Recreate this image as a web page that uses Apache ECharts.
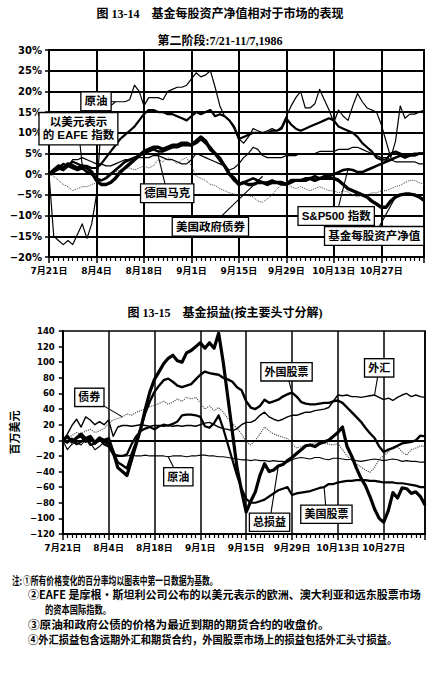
<!DOCTYPE html>
<html>
<head>
<meta charset="utf-8">
<script src="https://cdn.jsdelivr.net/npm/echarts@6/dist/echarts.min.js"></script>
<style>
  html, body { margin: 0; padding: 0; background: #fff; }
  #chart { width: 435px; height: 673px; }
</style>
</head>
<body>
<div id="chart"></div>
<script>
// ── Data: trading-day index 0 = 7/21/1986 … 79 = 11/7/1986 ──
const TICK_LABELS = ['7月21日', '8月4日', '8月18日', '9月1日', '9月15日', '9月29日', '10月13日', '10月27日'];
const LAST_DAY = 79;

// 图 13-14: % change vs first day
const NAV = [
  0, 1, 2, 1.5, 2.5, 2, 1.5, 2, 1.5, 0.5,
  -1.5, -2.5, -2.5, -2, -1, 0.5, 1.5, 2.5, 3.5, 4.5,
  5.5, 6, 6.5, 6.5, 6, 6.5, 7, 7, 7.5, 7.5,
  7, 8, 9, 8, 6, 5, 3.5, 2, 0, -1,
  -2.5, -2, -2.5, -2.5, -2, -2, -2.5, -2, -2, -2,
  -2.5, -1.5, -1.5, -1.5, -1.5, -1, -1.5, -1, -1, -1,
  -1, -1.5, -2.5, -3.5, -4, -4.5, -5, -5.5, -6.5, -7.2,
  -8, -8, -6.5, -5.5, -5, -4.8, -4.8, -5, -5.5, -6.3
];
const SP500 = [
  0, 0.5, 1.5, 1, 2, 1.5, 1, 1.5, 0.5, 0,
  -1, -1.5, -1, 0, 1, 2, 3, 3.5, 4, 4.5,
  5, 5.5, 6, 5.5, 5.5, 6, 6.5, 6.5, 7, 7,
  7, 7.5, 8.5, 7.5, 6.5, 5, 4, 2, 0, -1.5,
  -2.5, -2, -1.5, -1, -1.5, -2, -2, -1.5, -2, -2.5,
  -2.5, -2, -1.5, -1.5, -1, -1, -0.5, -1, -0.5, -0.5,
  0, 0.5, 1, 1.2, 1, 0.5, 0.5, 1, 1.5, 2,
  2.5, 3, 3.5, 4, 4.5, 4, 4.5, 4.5, 5, 5
];
const EAFE = [
  0, 1, 1.5, 2.5, 2, 3, 2.5, 2, 2, 1.5,
  1.5, 2.5, 4, 5.5, 7, 8.5, 9.5, 10.5, 11.5, 13,
  14.5, 15.5, 15.5, 15, 15, 14.5, 14.5, 14, 13.5, 13,
  14, 15, 14.5, 15, 15.5, 14, 14.5, 14, 13, 11.5,
  8.5, 9, 9.5, 10, 10, 10, 10, 10.5, 10.5, 11,
  13.5, 12, 11, 10.5, 11, 11.5, 12, 12.5, 13, 13.5,
  13, 11.5, 11, 10.5, 10, 9, 7.5, 6.5, 5.5, 4,
  3.5, 3.5, 5, 5.5, 5, 4.5, 4.5, 5, 5, 5
];
const DMARK = [
  0, 0.5, 1, 1.5, 2, 3.5, 3.5, 4, 3.5, 3,
  2.5, 2.5, 2, 2, 2.5, 3, 3.5, 3.5, 4, 4,
  4, 4, 4.5, 4.5, 4, 3.5, 3.5, 3, 2.5, 2.5,
  3.5, 5, 4.5, 4, 3.5, 3, 2.5, 2, 1, 1.5,
  2.5, 4, 5, 6.5, 6, 4.5, 4, 4, 4, 4,
  4.5, 4.5, 4.5, 5, 5, 5, 5, 5.5, 5.5, 5.5,
  5.5, 6, 6, 6, 6.5, 6.5, 6, 5.5, 5, 4.5,
  4, 4, 3.5, 3, 3, 3, 3, 3, 2.5, 2.5
];
const CRUDE_PCT = [
  0, -15, -16, -17, -16, -17, -14.5, -12, -15.5, -12,
  -5, 12, 13.5, 16.5, 17.5, 17.5, 17.5, 18, 21.5, 20,
  16.5, 18.5, 18.5, 18.5, 18, 20, 20.5, 21, 21, 21.5,
  23, 24.5, 23.5, 24, 25, 21, 16.5, 14, 13, 11,
  8.5, 7.5, 9, 11, 10.5, 10, 10.5, 11, 10.5, 11.5,
  14, 16.5, 18.5, 20, 16, 16, 17, 20.5, 18, 15.5,
  12.5, 15.5, 14, 13, 16.5, 19.5, 17.5, 16, 15.5, 15,
  12, 8, 4, 8, 16.5, 13.5, 14.5, 14.5, 15, 15.5
];
const BONDS_PCT = [
  0, -0.5, -1.5, -2.5, -3, -4, -3.5, -3, -3, -2.5,
  -2, -1.5, -0.5, 0.5, 0.5, 1, 1.5, 1.5, 1, 1.5,
  2, 1.5, 2, 3.5, 3, 4, 3.5, 2.5, 3.5, 4,
  2, -0.5, -1, -1.5, -2.5, -2.7, -3.5, -4, -4.5, -4.8,
  -5, -5, -5.2, -5.5, -6.5, -6.8, -6, -5, -3.6, -2.5,
  -2, -3, -3.5, -3, -3.5, -4, -3.5, -3, -3.5, -4,
  -4, -4.5, -4, -4.3, -5, -5.5, -5, -5, -4.5, -4.5,
  -4, -4, -3.5, -3, -2.7, -2, -1.5, -1.5, -2, -2.5
];

// 图 13-15: P&L, million USD
const TOTAL_PL = [
  0, 5, -2, 3, 8, 2, 5, -3, 3, 0,
  2, -15, -35, -40, -45, -25, -5, 15, 40, 62,
  78, 88, 98, 105, 109, 102, 100, 112, 115, 120,
  125, 118, 125, 118, 137, 100, 55, 10, -35, -65,
  -92, -78, -66, -45, -30, -40, -38, -33, -31, -26,
  -22, -17, -12, -7, -6, -8, -4, -2, 0, 5,
  10, 17, -8, -20, -35, -48, -58, -72, -88, -100,
  -105, -90, -67, -74, -61, -62, -68, -66, -72, -83
];
const FOREIGN_EQ = [
  0, 4, -2, 3, 5, -2, 2, -4, 0, -2,
  -4, -15, -28, -32, -36, -18, -2, 15, 35, 50,
  62, 70, 77, 79, 75, 70, 68, 70, 72, 78,
  84, 88, 86, 85, 84, 80, 78, 75, 68, 64,
  50, 42, 40, 44, 52, 48, 50, 52, 56, 59,
  61, 56, 49, 47, 46, 46, 47, 48, 48, 50,
  51, 48, 42, 36, 30, 24, 16, 9, 3, -8,
  -15, -12, -10, -7, -4, -3, -2, 0, 6, 5
];
const US_EQ = [
  0, -3, 2, -5, -2, 3, -6, -4, 2, -5,
  -8, -18, -20, -20, -18, -5, 5, 12, 15, 17,
  14, 18, 20, 19, 21, 24, 32, 33, 33, 32,
  30, 18, 16, 22, 32, 15, -5, -25, -45, -62,
  -75, -80, -80, -78, -76, -72, -68, -64, -62, -60,
  -70, -68, -67, -66, -65, -63, -61, -60, -56, -56,
  -54, -53, -52, -52, -51, -51, -51, -52, -52, -53,
  -54, -54, -54, -55, -55, -56, -57, -58, -60, -60
];
const FX = [
  0, 8, 19, 27, 17, 30, 26, 20, 24, 20,
  26, 5, 17, 19, 19, 18, 19, 20, 19, 18,
  19, 19, 18, 19, 18, 19, 18, 19, 19, 18,
  20, 22, 23, 20, 17, 15, 14, 12, 15, 20,
  23, 23, 26, 32, 36, 30, 27, 25, 27, 30,
  32, 32, 34, 36, 36, 38, 39, 40, 42, 50,
  58, 57, 58, 56, 56, 55, 56, 57, 58, 55,
  52, 54, 51, 55, 58, 60, 56, 58, 56, 55
];
const CRUDE_PL = [
  0, -12, -5, -3, -6, 1, -3, -12, -8, -2,
  -6, -17, -19, -20, -20, -19, -20, -20, -19, -20,
  -20, -20, -20, -21, -20, -20, -20, -21, -20, -20,
  -19, -19, -20, -20, -21, -21, -22, -23, -24, -25,
  -25, -26, -25, -26, -26, -27, -26, -27, -27, -28,
  -25, -23, -22, -23, -24, -22, -22, -24, -25, -23,
  -23, -24, -25, -24, -26, -27, -26, -25, -24, -25,
  -26, -25, -24, -25, -27, -26, -27, -27, -28, -28
];
const BONDS_PL = [
  0, 3, 6, 10, 8, 12, 14, 10, 12, 15,
  22, 26, 28, 30, 34, 32, 36, 38, 40, 43,
  45, 47, 50, 46, 49, 53, 50, 55, 53, 55,
  48, 40, 44, 38, 42, 36, 28, 22, 15, 8,
  -2, -6, 0, 8, 17, 12, 8, 6, 4, 2,
  -5, -10, -8, -6, -5, -3, -1, -3, -5, -6,
  -4, -12, -20, -26, -30, -34, -38, -41, -35, -24,
  -20, -15, -8, -8, -15, -19, -12, -10, -7, -8
];

// ── Callout boxes: [day, value] for box centre and leader target ──
const TOP_CALLOUTS = [
  { text: '原油', box: [9.9, 17.6], target: [14, 17.5] },
  { text: '以美元表示\n的 EAFE 指数', box: [6.2, 11], target: [7, 2] },
  { text: '德国马克', box: [24.9, -4.6], target: [23, 4.5] },
  { text: '美国政府债券', box: [34, -12.7], target: [45, -0.5] },
  { text: 'S&P500 指数', box: [60.5, -10.1], target: [63, 1.2] },
  { text: '基金每股资产净值', box: [68.5, -14.9], target: [73, -5.5] },
];
const BOTTOM_CALLOUTS = [
  { text: '债券', box: [5.8, 55], target: [13, 30] },
  { text: '外国股票', box: [48.8, 87.7], target: [50, 61] },
  { text: '外汇', box: [69, 92.8], target: [68, 58] },
  { text: '原油', box: [25.2, -46.7], target: [23, -21] },
  { text: '总损益', box: [45.1, -105], target: [47, -33] },
  { text: '美国股票', box: [57.5, -94.8], target: [57, -60] },
];

const NOTES = [
  { text: '注:', x: 12, y: 580, w: 10 },
  { text: '①所有价格变化的百分率均以图表中第一日数据为基数。', x: 23, y: 580, w: 195 },
  { text: '②EAFE 是摩根·斯坦利公司公布的以美元表示的欧洲、澳大利亚和远东股票市场', x: 28, y: 594, w: 393 },
  { text: '的资本国际指数。', x: 45, y: 609, w: 66 },
  { text: '③原油和政府公债的价格为最近到期的期货合约的收盘价。', x: 28, y: 624, w: 302 },
  { text: '④外汇损益包含远期外汇和期货合约，外国股票市场上的损益包括外汇头寸损益。', x: 28, y: 639, w: 370 },
];

const FONT = '"DejaVu Sans", "Noto Sans CJK SC", sans-serif';
const LABEL_FONT = '"Liberation Sans", "Noto Sans CJK SC", sans-serif';
const CJK_FONT = '"Noto Sans CJK SC", sans-serif';
const TITLE_FONT = '"Liberation Serif", "Noto Sans CJK SC", serif';

const chart = echarts.init(document.getElementById('chart'), null, { renderer: 'svg' });

const minus = v => (v < 0 ? '−' + (-v) : String(v));
const dayLabel = v => (v % 10 === 0 && TICK_LABELS[v / 10]) || '';

function xAxisFor(gridIndex, splitWidth) {
  return {
    type: 'value', gridIndex, min: 0, max: LAST_DAY, interval: 10,
    axisLine: { show: true, onZero: false, lineStyle: { color: '#000', width: 2 } },
    axisTick: { show: true, length: 6, lineStyle: { color: '#000', width: 1.5 } },
    minorTick: { show: true, splitNumber: 10, length: 4, lineStyle: { color: '#000', width: 1.2 } },
    axisLabel: { formatter: dayLabel, margin: 9, color: '#000', fontSize: 9, fontWeight: 'bold',
      fontFamily: FONT, showMaxLabel: false },
    splitLine: { show: true, lineStyle: { color: '#000', width: splitWidth } },
  };
}

function line(data, gridIndex, width, type, color) {
  return {
    type: 'line', xAxisIndex: gridIndex, yAxisIndex: gridIndex,
    data: data.map((v, i) => [i, v]),
    showSymbol: false, symbol: 'none', silent: true,
    lineStyle: { color: color || '#000', width, type: type || 'solid', join: 'round' },
  };
}

const crudePl = line(CRUDE_PL, 1, 1.1);
crudePl.markLine = {
  silent: true, symbol: ['none', 'none'], label: { show: false },
  lineStyle: { color: '#000', width: 2, type: 'solid' },
  data: [{ yAxis: 0 }],
};

chart.setOption({
  animation: false,
  backgroundColor: '#fff',
  grid: [
    { left: 49, top: 50, width: 375, height: 207, show: true, borderColor: '#000', borderWidth: 2 },
    { left: 59, top: 331, width: 366, height: 203, show: true, borderColor: '#000', borderWidth: 1.6 },
  ],
  xAxis: [xAxisFor(0, 2), xAxisFor(1, 1.5)],
  yAxis: [
    {
      type: 'value', gridIndex: 0, min: -20, max: 30, interval: 5,
      axisLine: { show: true, lineStyle: { color: '#000', width: 2 } },
      axisTick: { show: true, length: 4, lineStyle: { color: '#000', width: 1.5 } },
      axisLabel: { formatter: v => minus(v) + '%', margin: 7, color: '#000', fontSize: 10,
        fontWeight: 'bold', fontFamily: FONT },
      splitLine: { show: true, lineStyle: { color: '#000', width: 2 } },
    },
    {
      type: 'value', gridIndex: 1, min: -120, max: 140, interval: 20,
      name: '百万美元', nameLocation: 'middle', nameRotate: 90, nameGap: 43,
      nameTextStyle: { color: '#000', fontSize: 11, fontWeight: 'bold', fontFamily: CJK_FONT },
      axisLine: { show: true, lineStyle: { color: '#000', width: 2 } },
      axisTick: { show: true, length: 4, lineStyle: { color: '#000', width: 1.5 } },
      axisLabel: { formatter: minus, margin: 8, color: '#000', fontSize: 8.5,
        fontWeight: 'bold', fontFamily: FONT },
      splitLine: { show: false },
    },
  ],
  series: [
    line(BONDS_PCT, 0, 1, 'dotted', '#444'),
    line(CRUDE_PCT, 0, 1.2),
    line(DMARK, 0, 1.2),
    line(EAFE, 0, 2.2),
    line(SP500, 0, 2.6),
    line(NAV, 0, 3.4),
    line(BONDS_PL, 1, 1.1, 'dotted', '#444'),
    crudePl,
    line(FX, 1, 1.4),
    line(US_EQ, 1, 2.2),
    line(FOREIGN_EQ, 1, 2.4),
    line(TOTAL_PL, 1, 3.2),
  ],
});

// ── Titles, callouts and notes (after layout, so callouts go through the axes) ──
function callouts(list, gridIndex, fontSize) {
  const els = [];
  list.forEach(a => {
    const b = chart.convertToPixel({ gridIndex }, a.box);
    const t = chart.convertToPixel({ gridIndex }, a.target);
    els.push({ type: 'line', z: 100, silent: true,
      shape: { x1: b[0], y1: b[1], x2: t[0], y2: t[1] },
      style: { stroke: '#000', lineWidth: 1.1 } });
    els.push({ type: 'text', z: 101, silent: true, x: b[0], y: b[1],
      style: { text: a.text, align: 'center', verticalAlign: 'middle', fill: '#000',
        fontSize, fontWeight: 'bold', fontFamily: LABEL_FONT, lineHeight: fontSize + 2,
        backgroundColor: '#fff', borderColor: '#000', borderWidth: 1.3, padding: [2, 3] } });
  });
  return els;
}

const NOTE_SIZE = 11;
const measure = document.createElement('canvas').getContext('2d');
function noteElements() {
  measure.font = `bold ${NOTE_SIZE}px ${CJK_FONT}`;
  return NOTES.map(n => {
    const scaleX = n.w / measure.measureText(n.text).width;
    return { type: 'text', z: 100, silent: true, x: n.x, y: n.y, scaleX,
      style: { text: n.text, align: 'left', verticalAlign: 'middle', fill: '#000',
        fontSize: NOTE_SIZE, fontWeight: 'bold', fontFamily: CJK_FONT } };
  });
}

const titles = [
  { text: '图 13-14　基金每股资产净值相对于市场的表现', x: 220, y: 14 },
  { text: '第二阶段:7/21-11/7,1986', x: 220, y: 41 },
  { text: '图 13-15　基金损益(按主要头寸分解)', x: 225, y: 313 },
].map(t => ({ type: 'text', z: 100, silent: true, x: t.x, y: t.y,
  style: { text: t.text, align: 'center', verticalAlign: 'middle', fill: '#000',
    fontSize: 12, fontWeight: 'bold', fontFamily: TITLE_FONT } }));

chart.setOption({
  graphic: {
    elements: [
      ...titles,
      ...callouts(TOP_CALLOUTS, 0, 11.5),
      ...callouts(BOTTOM_CALLOUTS, 1, 11),
      ...noteElements(),
    ],
  },
});
</script>
</body>
</html>
